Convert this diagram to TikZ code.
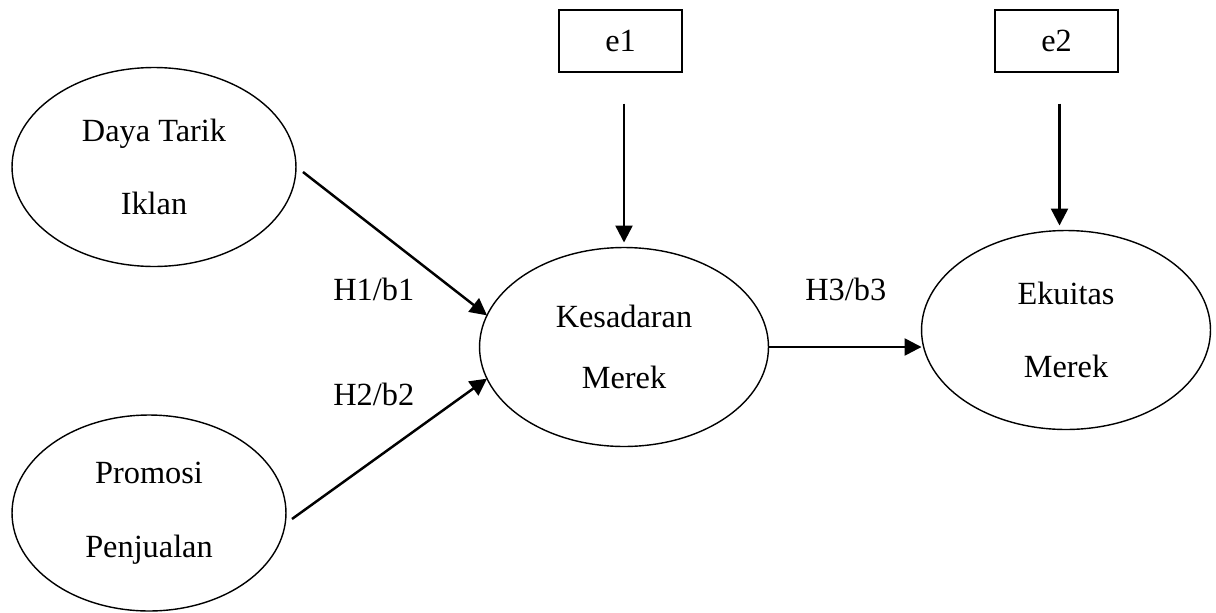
\documentclass[tikz,border=0pt]{standalone}
\usepackage{fontspec}
\setmainfont{Liberation Serif}
\usetikzlibrary{arrows.meta, positioning, shapes.geometric, calc}

\begin{document}
\begin{tikzpicture}[
          x=0.02cm, y=-0.02cm,
          every node/.style={font=\fontsize{18.4}{42}\selectfont},
          var/.style={ellipse, draw, line width=0.8pt, align=center, inner sep=0pt,
                      outer sep=0pt, minimum width=5.76cm, minimum height=3.98cm},
          err/.style={rectangle, draw, line width=0.8pt, minimum width=2.46cm, minimum height=1.24cm},
          lbl/.style={anchor=base west, inner sep=0pt},
          link/.style={line width=1.4pt, -{Triangle[length=0.34cm, width=0.34cm]}}
        ]
          \useasboundingbox (0,0) rectangle (1216,612);
          % latent variables
          \node[var, minimum width=5.68cm] (daya) at (154,167) {Daya Tarik\\Iklan};
          \node[var, minimum width=5.48cm, minimum height=3.92cm] (promosi) at (149,513) {Promosi\\Penjualan};
          \node[var, minimum width=5.78cm] (kesadaran) at (624,347) {Kesadaran\\[-7pt]Merek};
          \node[var, minimum width=5.78cm] (ekuitas) at (1066,330) {Ekuitas\\Merek};
          % error terms
          \node[err] (e1) at (620.5,41) {e1};
          \node[err] (e2) at (1056.5,41) {e2};
          % paths
          \draw[link] ([shift={(7,5)}]daya.east) -- (kesadaran.167);
          \draw[link] ([shift={(6,6)}]promosi.east) -- (kesadaran.193);
          \draw[link] (kesadaran.east) -- (kesadaran.east -| ekuitas.west);
          \draw[link, shorten <=0.62cm, shorten >=0.1cm] (kesadaran.north |- e1.south) -- (kesadaran.north);
          \draw[link, shorten <=0.62cm, shorten >=0.1cm] ([shift={(3,0)}]e2.south) -- ([shift={(3,0)}]e2.south |- ekuitas.north);
          % labels
          \node[lbl] (h1) at (333,300) {H1/b1};
          \node[lbl] (h2) at (333,405) {H2/b2};
          \node[lbl] (h3) at (805,300) {H3/b3};
        \end{tikzpicture}
\end{document}
